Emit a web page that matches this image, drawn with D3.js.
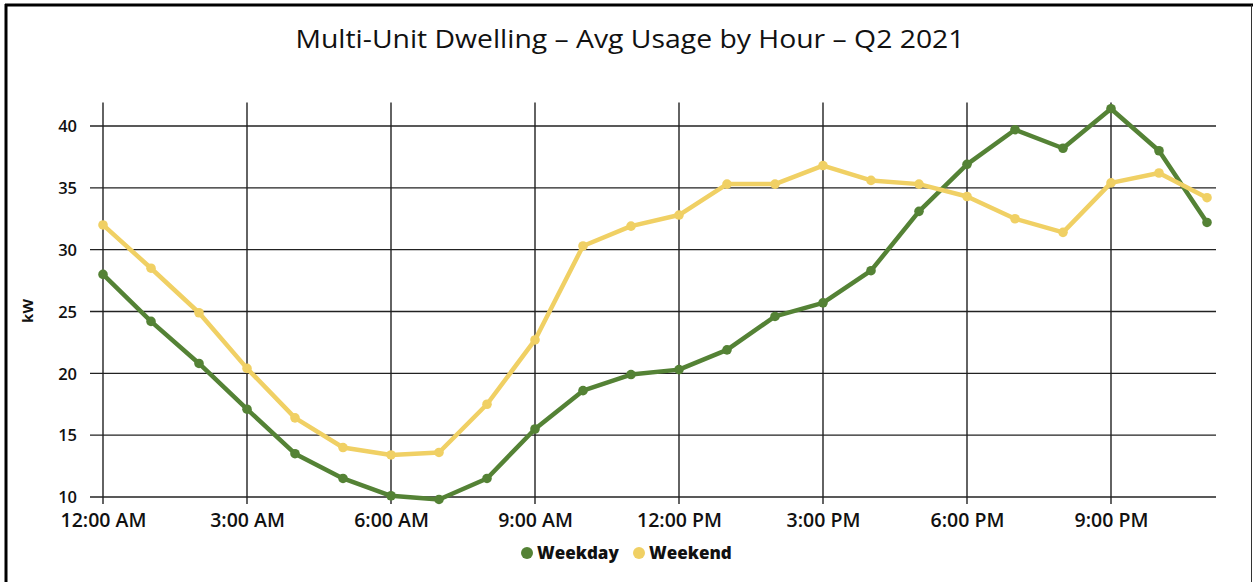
<!DOCTYPE html>
<html>
<head>
<meta charset="utf-8">
<script src="https://cdn.jsdelivr.net/npm/d3@7"></script>
<style>
  body { margin: 0; background: #fff; }
  svg { display: block; }
</style>
</head>
<body>
<div id="chart"></div>
<script>
// hours 0..23, labels every 3 hours
var hours = d3.range(0, 24);
var tickHours = [0, 3, 6, 9, 12, 15, 18, 21];
var tickLabels = ["12:00 AM", "3:00 AM", "6:00 AM", "9:00 AM", "12:00 PM", "3:00 PM", "6:00 PM", "9:00 PM"];
var yTicks = [10, 15, 20, 25, 30, 35, 40];

var weekday = [28.0, 24.2, 20.8, 17.1, 13.5, 11.5, 10.1, 9.8, 11.5, 15.5, 18.6, 19.9,
               20.3, 21.9, 24.6, 25.7, 28.3, 33.1, 36.9, 39.7, 38.2, 41.4, 38.0, 32.2];
var weekend = [32.0, 28.5, 24.9, 20.4, 16.4, 14.0, 13.4, 13.6, 17.5, 22.7, 30.3, 31.9,
               32.8, 35.3, 35.3, 36.8, 35.6, 35.3, 34.3, 32.5, 31.4, 35.4, 36.2, 34.2];

var seriesNames = ["Weekday", "Weekend"];
var seriesColors = ["#548235", "#F0D064"];

var W = 1253, H = 582;
var svg = d3.select("#chart").append("svg").attr("width", W).attr("height", H);

// outer frame
svg.append("line").attr("x1", 5).attr("y1", 5).attr("x2", W).attr("y2", 5)
   .attr("stroke", "#000").attr("stroke-width", 3);
svg.append("line").attr("x1", 6).attr("y1", 4).attr("x2", 6).attr("y2", H)
   .attr("stroke", "#000").attr("stroke-width", 3);
svg.append("line").attr("x1", 1251.5).attr("y1", 5).attr("x2", 1251.5).attr("y2", H)
   .attr("stroke", "#333").attr("stroke-width", 1);

svg.append("text")
   .attr("x", 630).attr("y", 48)
   .attr("text-anchor", "middle")
   .attr("font-family", "'Open Sans', sans-serif")
   .attr("font-size", 26)
   .attr("textLength", 669).attr("lengthAdjust", "spacingAndGlyphs")
   .attr("fill", "#111")
   .text("Multi-Unit Dwelling \u2013 Avg Usage by Hour \u2013 Q2 2021");

var x = d3.scaleLinear().domain([0, 23]).range([103, 1207]);
var y = d3.scaleLinear().domain([10, 40]).range([497, 126]);

var g = svg.append("g");
var xRight = 1216, yTop = y(41.9);

// horizontal grid with left tick stubs
g.selectAll(".hgrid").data(yTicks).enter().append("line")
  .attr("x1", 90).attr("x2", xRight)
  .attr("y1", function(d) { return y(d); }).attr("y2", function(d) { return y(d); })
  .attr("stroke", "#222").attr("stroke-width", 1.4);

// vertical grid with bottom tick stubs
g.selectAll(".vgrid").data(tickHours).enter().append("line")
  .attr("x1", function(d) { return x(d); }).attr("x2", function(d) { return x(d); })
  .attr("y1", yTop).attr("y2", y(10) + 7)
  .attr("stroke", "#222").attr("stroke-width", 1.4);

var labelFont = "'Open Sans', 'Noto Sans', sans-serif";

var yAxis = d3.axisLeft(y).tickValues(yTicks).tickSize(0).tickPadding(0);
svg.append("g").attr("transform", "translate(77,0)").call(yAxis)
  .call(function(a) { a.select(".domain").remove(); })
  .selectAll("text")
  .attr("font-family", labelFont).attr("font-size", 16.5).attr("font-weight", 600)
  .attr("fill", "#111").attr("dy", "0.35em");

var xAxis = d3.axisBottom(x).tickValues(tickHours)
  .tickFormat(function(d, i) { return tickLabels[i]; }).tickSize(0).tickPadding(0);
svg.append("g").attr("transform", "translate(0,527)").call(xAxis)
  .call(function(a) { a.select(".domain").remove(); })
  .selectAll("text")
  .attr("font-family", labelFont).attr("font-size", 19.5).attr("font-weight", 600)
  .attr("fill", "#111").attr("dy", "0");

svg.append("text")
  .attr("transform", "translate(33,311) rotate(-90)")
  .attr("text-anchor", "middle")
  .attr("font-family", labelFont).attr("font-size", 15).attr("font-weight", 700)
  .attr("fill", "#111")
  .text("kW");

var line = d3.line().x(function(d, i) { return x(hours[i]); }).y(function(d) { return y(d); });

[weekday, weekend].forEach(function(series, k) {
  var s = svg.append("g");
  s.append("path").datum(series)
    .attr("d", line).attr("fill", "none")
    .attr("stroke", seriesColors[k]).attr("stroke-width", 4.5)
    .attr("stroke-linejoin", "round");
  s.selectAll("circle").data(series).enter().append("circle")
    .attr("cx", function(d, i) { return x(hours[i]); })
    .attr("cy", function(d) { return y(d); })
    .attr("r", 4.8)
    .attr("fill", seriesColors[k]);
});

// legend
var legend = svg.append("g").attr("transform", "translate(0,553)");
var lx = [527, 639];
seriesNames.forEach(function(name, k) {
  legend.append("circle").attr("cx", lx[k]).attr("cy", 0).attr("r", 6).attr("fill", seriesColors[k]);
  legend.append("text").attr("x", lx[k] + 10).attr("y", 0).attr("dy", "0.35em")
    .attr("font-family", labelFont).attr("font-size", 17).attr("font-weight", 800)
    .attr("fill", "#111").text(name);
});
</script>
</body>
</html>
